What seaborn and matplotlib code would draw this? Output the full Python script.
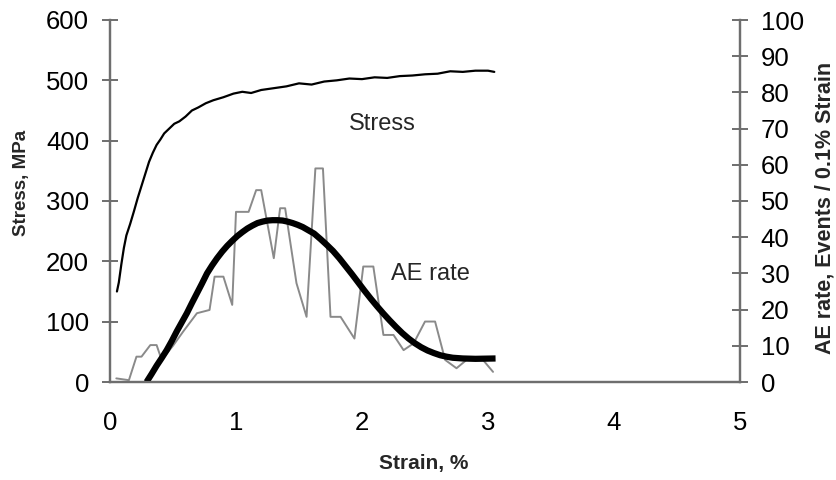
import matplotlib
matplotlib.use("Agg")
import matplotlib.pyplot as plt
import seaborn as sns
import pandas as pd

# Stress-strain curve (strain %, stress MPa)
stress_strain = [0.055, 0.07, 0.09, 0.11, 0.13, 0.16, 0.19, 0.22, 0.25, 0.28, 0.31, 0.34,
                 0.37, 0.40, 0.43, 0.47, 0.51, 0.55, 0.60, 0.65, 0.70, 0.76, 0.82, 0.90,
                 0.98, 1.05, 1.12, 1.20, 1.30, 1.40, 1.50, 1.60, 1.70, 1.80, 1.90, 2.00,
                 2.10, 2.20, 2.30, 2.40, 2.50, 2.60, 2.70, 2.80, 2.90, 3.00, 3.05]
stress_mpa = [150, 165, 195, 222, 243, 262, 283, 305, 325, 345, 365, 380,
              393, 402, 412, 420, 428, 432, 440, 450, 455, 462, 467, 472,
              478, 481, 479, 484, 487, 490, 495, 493, 498, 500, 503, 502,
              505, 504, 507, 508, 510, 511, 515, 514, 516, 516, 514]

# AE rate measured (strain %, events / 0.1% strain)
ae_strain = [0.05, 0.15, 0.21, 0.25, 0.32, 0.37, 0.41, 0.50, 0.58, 0.69, 0.79, 0.83, 0.90,
             0.97, 1.00, 1.10, 1.16, 1.20, 1.30, 1.35, 1.39, 1.48, 1.56, 1.63, 1.69,
             1.75, 1.83, 1.94, 2.01, 2.09, 2.17, 2.25, 2.33, 2.41, 2.50, 2.58, 2.66,
             2.75, 2.83, 2.96, 3.04]
ae_rate = [1.0, 0.5, 7.0, 7.0, 10.2, 10.2, 6.1, 10.0, 13.9, 19.0, 19.9, 29.1, 29.1,
           21.3, 47.0, 47.0, 53.0, 53.0, 34.2, 48.0, 48.0, 27.3, 18.0, 59.0, 59.0,
           18.0, 18.0, 12.0, 31.9, 31.9, 13.0, 13.0, 8.8, 10.7, 16.7, 16.7, 6.1,
           3.8, 6.1, 6.1, 2.8]

# AE rate fitted curve
fit_strain = [0.29, 0.33, 0.37, 0.41, 0.45, 0.49, 0.53, 0.57, 0.61, 0.65, 0.69, 0.73,
              0.77, 0.81, 0.85, 0.89, 0.93, 0.97, 1.01, 1.05, 1.09, 1.13, 1.17, 1.21,
              1.25, 1.29, 1.33, 1.37, 1.41, 1.45, 1.49, 1.53, 1.57, 1.62, 1.67, 1.72,
              1.77, 1.82, 1.87, 1.92, 1.97, 2.02, 2.07, 2.12, 2.17, 2.22, 2.27, 2.32,
              2.37, 2.42, 2.47, 2.52, 2.57, 2.62, 2.67, 2.72, 2.80, 2.90, 3.06]
fit_rate = [0.0, 2.2, 4.5, 6.6, 8.8, 11.3, 14.0, 16.5, 19.0, 21.8, 24.5, 27.2,
            30.0, 32.2, 34.2, 36.0, 37.6, 39.0, 40.3, 41.4, 42.4, 43.2, 43.9, 44.3,
            44.6, 44.7, 44.7, 44.6, 44.3, 43.9, 43.4, 42.8, 42.0, 41.0, 39.5, 37.9,
            36.2, 34.2, 32.0, 29.8, 27.5, 25.2, 23.0, 20.9, 18.9, 17.0, 15.2, 13.5,
            12.0, 10.7, 9.6, 8.7, 8.0, 7.4, 7.0, 6.7, 6.5, 6.4, 6.5]

sns.set_theme(style="white")
plt.rcParams['font.family'] = ['Liberation Sans', 'DejaVu Sans']

fig = plt.figure(figsize=(8.37, 4.8), dpi=100)
ax = fig.add_axes([110/837, 1-382/480, 630/837, 362/480])
ax2 = ax.twinx()

df_s = pd.DataFrame({"strain": stress_strain, "stress": stress_mpa})
df_ae = pd.DataFrame({"strain": ae_strain, "rate": ae_rate})
df_fit = pd.DataFrame({"strain": fit_strain, "rate": fit_rate})

sns.lineplot(data=df_s, x="strain", y="stress", ax=ax, color="black", linewidth=1.6,
             sort=False, estimator=None)
sns.lineplot(data=df_ae, x="strain", y="rate", ax=ax2, color="#8a8a8a", linewidth=1.4,
             sort=False, estimator=None)
sns.lineplot(data=df_fit, x="strain", y="rate", ax=ax2, color="black", linewidth=4.5,
             sort=False, estimator=None, solid_capstyle="butt")

ax.set_xlim(0, 5)
ax.set_ylim(0, 600)
ax2.set_ylim(0, 100)
ax.set_xticks([0, 1, 2, 3, 4, 5])
ax.set_yticks(range(0, 601, 100))
ax2.set_yticks(range(0, 101, 10))

spine_c = "#6e6e6e"
for a in (ax, ax2):
    for s in a.spines.values():
        s.set_color(spine_c)
        s.set_linewidth(1.6)
    a.spines["top"].set_visible(False)

ax.tick_params(axis="both", direction="inout", length=12, width=1.4, color=spine_c,
               labelsize=18.5, labelcolor="black")
ax.tick_params(axis="x", pad=15)
ax.tick_params(axis="y", pad=9)
ax2.tick_params(axis="y", direction="inout", length=12, width=1.4, color=spine_c,
                labelsize=18.5, labelcolor="black", pad=9)

ax.set_xlabel("Strain, %", fontsize=15, fontweight="bold", va="center")
ax.xaxis.set_label_coords(0.498, -0.224)
ax.set_ylabel("Stress, MPa", fontsize=13.5, fontweight="bold", va="center")
ax.yaxis.set_label_coords(-0.1397, 0.55)
ax2.set_ylabel("AE rate, Events / 0.1% Strain", fontsize=15.5, fontweight="bold", va="center")
ax2.yaxis.set_label_coords(1.135, 0.48)

ax.text(2.16, 428, "Stress", fontsize=17, ha="center", va="center")
ax2.text(2.54, 29.8, "AE rate", fontsize=17, ha="center", va="center")

fig.savefig("out.png", dpi=100, facecolor="white")
